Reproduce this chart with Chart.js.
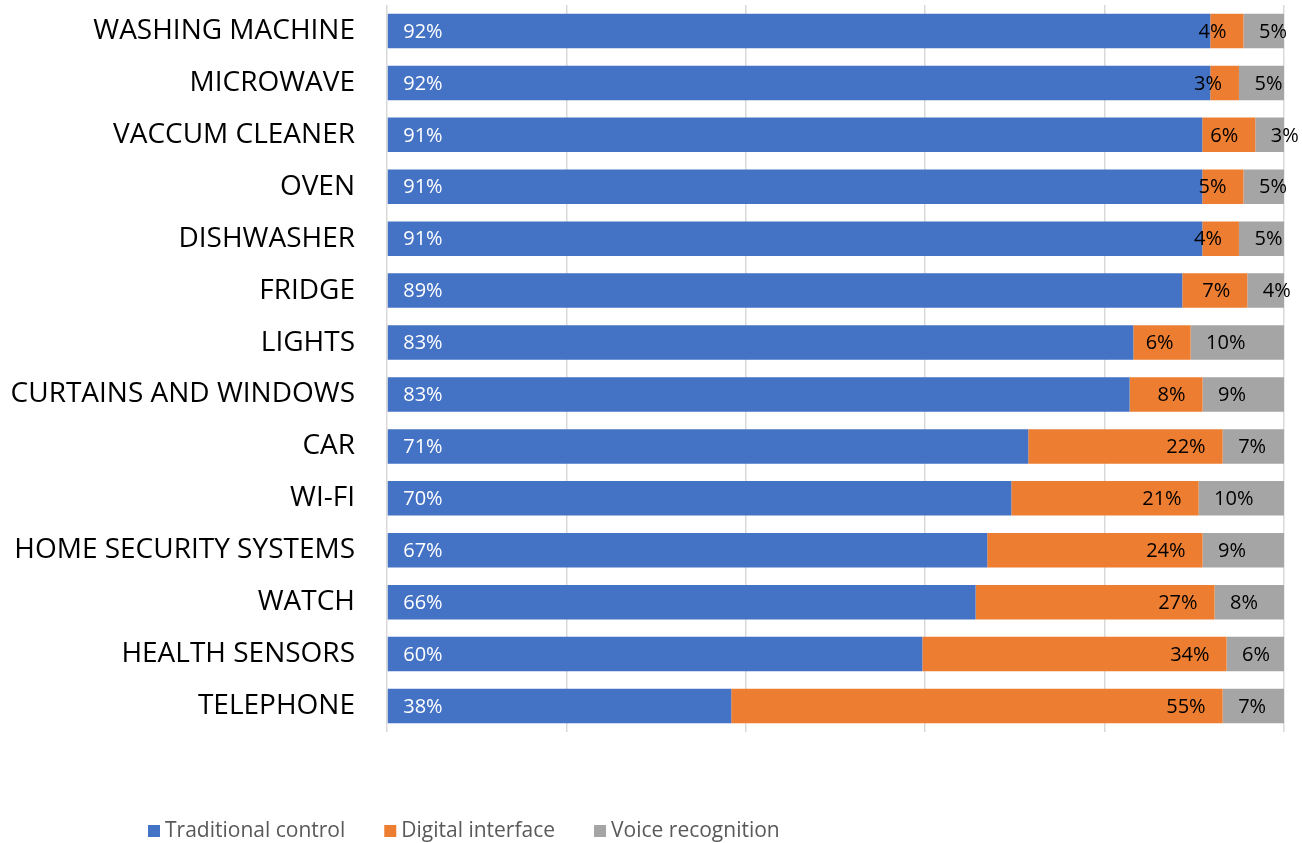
<!DOCTYPE html>
<html>
<head>
<meta charset="utf-8">
<script src="https://cdn.jsdelivr.net/npm/chart.js@4.4.1/dist/chart.umd.min.js"></script>
<style>
  html, body { margin: 0; padding: 0; background: #ffffff; }
  #wrap { width: 1302px; height: 843px; position: relative; }
</style>
</head>
<body>
<div id="wrap"><canvas id="c"></canvas></div>
<script>
// ---- data ----
const categories = [
  'WASHING MACHINE', 'MICROWAVE', 'VACCUM CLEANER', 'OVEN', 'DISHWASHER', 'FRIDGE',
  'LIGHTS', 'CURTAINS AND WINDOWS', 'CAR', 'WI-FI', 'HOME SECURITY SYSTEMS', 'WATCH',
  'HEALTH SENSORS', 'TELEPHONE'
];
const traditionalControl = [91.78, 91.78, 90.89, 90.89, 90.89, 88.66, 83.20, 82.79, 71.49, 69.60, 66.92, 65.62, 59.68, 38.38];
const digitalInterface   = [3.70, 3.20, 5.91, 4.59, 4.09, 7.25, 6.39, 8.13, 21.67, 20.88, 24.00, 26.64, 33.92, 54.78];
const voiceRecognition   = [4.52, 5.02, 3.20, 4.52, 5.02, 4.09, 10.41, 9.08, 6.84, 9.52, 9.08, 7.74, 6.40, 6.84];
const seriesNames = ['Traditional control', 'Digital interface', 'Voice recognition'];
const xTicks = [0, 20, 40, 60, 80, 100];

// ---- styles ----
const seriesColors = ['#4472C4', '#ED7D31', '#A5A5A5'];
const labelColors = ['#FFFFFF', '#000000', '#000000'];
const labelModes = ['base', 'end', 'base'];
const FONT = '"Open Sans", "Liberation Sans", sans-serif';

const dataLabelPlugin = {
  id: 'dataLabels',
  afterDatasetsDraw(chart) {
    const ctx = chart.ctx;
    ctx.save();
    ctx.font = '20px ' + FONT;
    ctx.textBaseline = 'middle';
    chart.data.datasets.forEach((ds, di) => {
      const meta = chart.getDatasetMeta(di);
      meta.data.forEach((el, i) => {
        const v = ds.data[i];
        const txt = Math.round(v) + '%';
        const start = Math.min(el.base, el.x);
        const end = Math.max(el.base, el.x);
        ctx.fillStyle = labelColors[di];
        if (labelModes[di] === 'base') {
          ctx.textAlign = 'left';
          ctx.fillText(txt, start + 15.5, el.y + 1);
        } else {
          ctx.textAlign = 'right';
          ctx.fillText(txt, end - 17, el.y + 1);
        }
      });
    });
    ctx.restore();
  }
};

const legendPlugin = {
  id: 'customLegend',
  afterDraw(chart) {
    const ctx = chart.ctx;
    ctx.save();
    ctx.font = '21px ' + FONT;
    ctx.textBaseline = 'middle';
    ctx.textAlign = 'left';
    let x = 148;
    const yc = 831;
    chart.data.datasets.forEach((ds) => {
      ctx.fillStyle = ds.backgroundColor;
      ctx.fillRect(x, yc - 6, 12, 12);
      ctx.fillStyle = '#595959';
      ctx.fillText(ds.label, x + 17, yc);
      x += 17 + ctx.measureText(ds.label).width + 39;
    });
    ctx.restore();
  }
};

const seriesData = [traditionalControl, digitalInterface, voiceRecognition];

new Chart(document.getElementById('c'), {
  type: 'bar',
  data: {
    labels: categories,
    datasets: seriesData.map((d, i) => ({
      label: seriesNames[i],
      data: d,
      backgroundColor: seriesColors[i],
      borderWidth: 0,
      barPercentage: 0.665,
      categoryPercentage: 1.0
    }))
  },
  options: {
    indexAxis: 'y',
    responsive: true,
    maintainAspectRatio: false,
    animation: false,
    devicePixelRatio: 1,
    layout: { padding: { top: 5, right: 18, bottom: 111, left: 0 } },
    plugins: {
      legend: { display: false },
      tooltip: { enabled: false }
    },
    scales: {
      x: {
        stacked: true,
        min: 0,
        max: 100,
        afterBuildTicks(scale) { scale.ticks = xTicks.map(v => ({ value: v })); },
        ticks: { display: false },
        grid: { color: '#D9D9D9', lineWidth: 1.5, drawTicks: false },
        border: { display: false },
        afterFit(scale) { scale.height = 0; scale.paddingLeft = 0; scale.paddingRight = 0; }
      },
      y: {
        stacked: true,
        grid: { display: false, drawTicks: false },
        border: { display: false },
        ticks: {
          color: '#000000',
          font: { family: FONT, size: 28 },
          padding: 32
        },
        afterFit(scale) { scale.width = 387; scale.paddingTop = 0; scale.paddingBottom = 0; }
      }
    }
  },
  plugins: [dataLabelPlugin, legendPlugin]
});
</script>
</body>
</html>
